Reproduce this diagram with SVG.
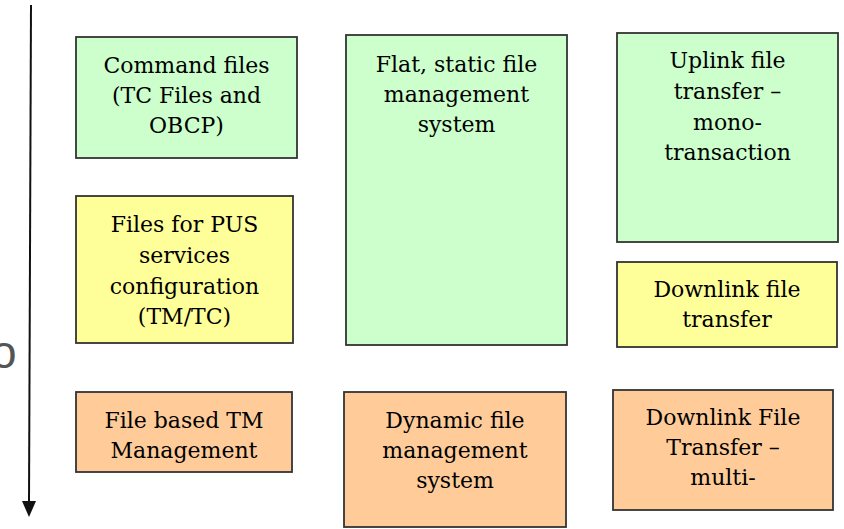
<svg xmlns="http://www.w3.org/2000/svg" width="844" height="529" viewBox="0 0 844 529">
<defs>
<style>
.box{stroke:#333;stroke-width:1.8}
.g{fill:#ccffcc}.y{fill:#ffff99}.o{fill:#ffcc99}
.t text{font-family:'DejaVu Serif','Liberation Serif',serif;font-size:22px;fill:#000;text-anchor:middle}
.lbl{font-family:'Liberation Sans',Arial,sans-serif;font-size:46px;fill:#555}
</style>
</defs>
<rect width="844" height="529" fill="#fff"/>
<text class="lbl" x="-9" y="368">o</text>
<g id="connectors">
<line x1="31" y1="5" x2="29" y2="502" stroke="#111" stroke-width="2"/>
<path d="M22,501 L36,501 L29,517 Z" fill="#111"/>
</g>
<g id="n1" class="t"><rect class="box g" x="76" y="37" width="221" height="121"/>
<text x="186.5" y="73">Command files</text><text x="186.5" y="103">(TC Files and</text><text x="186.5" y="133">OBCP)</text></g>
<g id="n2" class="t"><rect class="box y" x="76" y="196" width="217" height="147"/>
<text x="184.5" y="232">Files for PUS</text><text x="184.5" y="263">services</text><text x="184.5" y="294">configuration</text><text x="184.5" y="324">(TM/TC)</text></g>
<g id="n3" class="t"><rect class="box o" x="76" y="392" width="216" height="80"/>
<text x="184" y="428">File based TM</text><text x="184" y="458">Management</text></g>
<g id="n4" class="t"><rect class="box g" x="346" y="35" width="221" height="310"/>
<text x="456.5" y="72">Flat, static file</text><text x="456.5" y="102">management</text><text x="456.5" y="132">system</text></g>
<g id="n5" class="t"><rect class="box o" x="344" y="392" width="222" height="135"/>
<text x="455" y="428">Dynamic file</text><text x="455" y="458">management</text><text x="455" y="488">system</text></g>
<g id="n6" class="t"><rect class="box g" x="617" y="33" width="221" height="209"/>
<text x="727.5" y="68">Uplink file</text><text x="727.5" y="99">transfer –</text><text x="727.5" y="130">mono-</text><text x="727.5" y="160">transaction</text></g>
<g id="n7" class="t"><rect class="box y" x="617" y="262" width="220" height="85"/>
<text x="727" y="297">Downlink file</text><text x="727" y="327">transfer</text></g>
<g id="n8" class="t"><rect class="box o" x="613" y="390" width="220" height="120"/>
<text x="723" y="425">Downlink File</text><text x="723" y="455">Transfer –</text><text x="723" y="485">multi-</text></g>
</svg>
